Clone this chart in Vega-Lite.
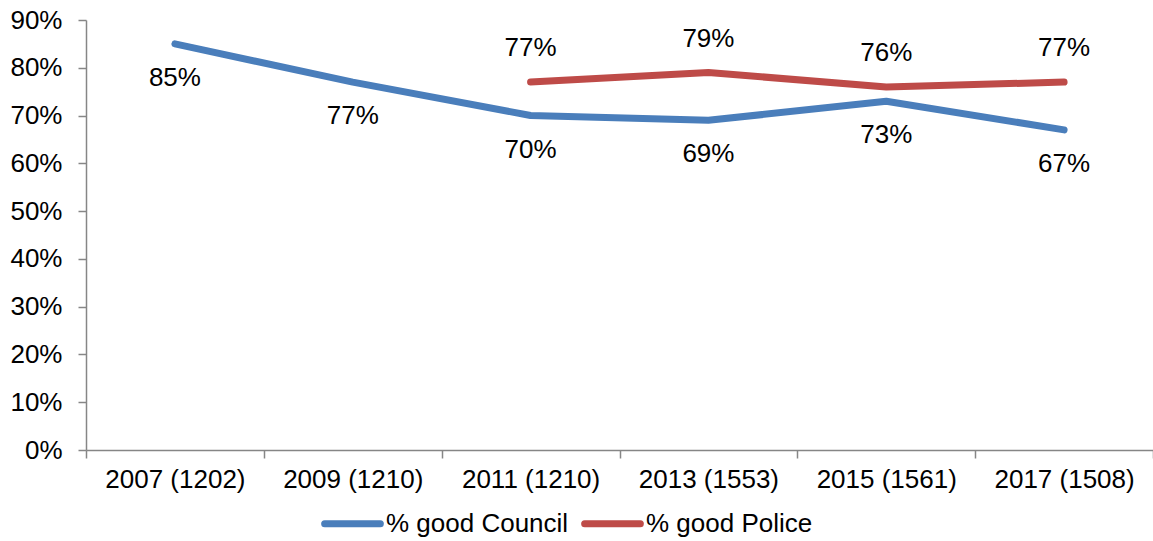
{
  "$schema": "https://vega.github.io/schema/vega-lite/v6.json",
  "autosize": {"type": "none"},
  "padding": {"left": 86, "top": 20, "right": 0, "bottom": 91},
  "width": 1067,
  "height": 430,
  "background": "white",
  "config": {
    "font": "Liberation Sans",
    "view": {"stroke": null},
    "axis": {"grid": false, "domainColor": "#868686", "tickColor": "#868686", "domainWidth": 1.5, "tickWidth": 1.5, "tickSize": 8, "labelFont": "Liberation Sans", "labelFontSize": 26, "labelColor": "#000000", "title": null}
  },
  "data": {
    "values": [
      {"year": "2007 (1202)", "series": "% good Council", "value": 85, "label": "85%"},
      {"year": "2009 (1210)", "series": "% good Council", "value": 77, "label": "77%"},
      {"year": "2011 (1210)", "series": "% good Council", "value": 70, "label": "70%"},
      {"year": "2013 (1553)", "series": "% good Council", "value": 69, "label": "69%"},
      {"year": "2015 (1561)", "series": "% good Council", "value": 73, "label": "73%"},
      {"year": "2017 (1508)", "series": "% good Council", "value": 67, "label": "67%"},
      {"year": "2011 (1210)", "series": "% good Police", "value": 77, "label": "77%"},
      {"year": "2013 (1553)", "series": "% good Police", "value": 79, "label": "79%"},
      {"year": "2015 (1561)", "series": "% good Police", "value": 76, "label": "76%"},
      {"year": "2017 (1508)", "series": "% good Police", "value": 77, "label": "77%"}
    ]
  },
  "encoding": {
    "x": {
      "field": "year", "type": "nominal", "sort": null,
      "scale": {"paddingInner": 0, "paddingOuter": 0},
      "axis": {"labelAngle": 0, "tickBand": "extent", "labelPadding": 8, "title": null}
    },
    "y": {
      "field": "value", "type": "quantitative",
      "scale": {"domain": [0, 90], "nice": false},
      "axis": {"values": [0, 10, 20, 30, 40, 50, 60, 70, 80, 90], "labelExpr": "datum.value + '%'", "labelPadding": 16, "title": null}
    }
  },
  "layer": [
    {
      "mark": {"type": "line", "strokeWidth": 7, "strokeCap": "round", "strokeJoin": "round"},
      "encoding": {
        "color": {
          "field": "series", "type": "nominal",
          "scale": {"domain": ["% good Council", "% good Police"], "range": ["#4A7EBB", "#BE4B48"]},
          "legend": {
            "title": null, "orient": "none", "direction": "horizontal",
            "legendX": 235, "legendY": 472,
            "symbolType": "stroke", "symbolSize": 3100, "symbolStrokeWidth": 7,
            "labelFontSize": 26, "labelFont": "Liberation Sans", "labelColor": "#000000",
            "labelOffset": 2, "columnPadding": 1, "labelLimit": 400,
            "encode": {"symbols": {"update": {"strokeCap": {"value": "round"}}}}
          }
        }
      }
    },
    {
      "transform": [{"filter": "datum.series == '% good Council'"}],
      "mark": {"type": "text", "dy": 34, "fontSize": 26, "color": "#000000", "font": "Liberation Sans"},
      "encoding": {"text": {"field": "label", "type": "nominal"}}
    },
    {
      "transform": [{"filter": "datum.series == '% good Police'"}],
      "mark": {"type": "text", "dy": -34, "fontSize": 26, "color": "#000000", "font": "Liberation Sans"},
      "encoding": {"text": {"field": "label", "type": "nominal"}}
    }
  ]
}
